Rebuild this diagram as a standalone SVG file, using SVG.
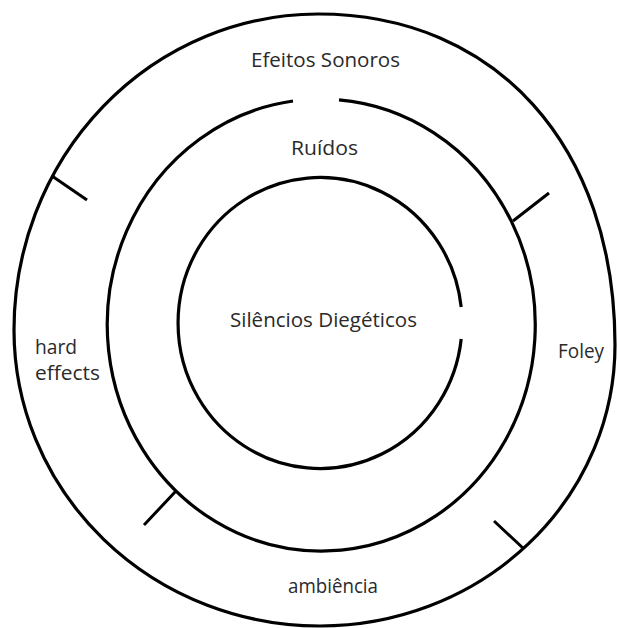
<svg xmlns="http://www.w3.org/2000/svg" width="617" height="628" viewBox="0 0 617 628">
  <style>
    .ring { fill: none; stroke: #000; stroke-width: 3.2; stroke-linecap: butt; }
    .tick { stroke: #000; stroke-width: 3; stroke-linecap: butt; }
    .lbl { font-family: "Open Sans", "Noto Sans", "Liberation Sans", sans-serif; font-size: 20px; fill: #2a2a2a; }
  </style>
  <rect x="0" y="0" width="617" height="628" fill="#fff"/>
  <g id="outer-ring">
    <path class="ring" d="M 14 330 A 304 316 0 0 1 318 14 C 496 14 615 146 615 345 A 295 281 0 0 1 320 626 A 306 296 0 0 1 14 330 Z"/>
    <text class="lbl" x="251" y="67" textLength="149" lengthAdjust="spacingAndGlyphs">Efeitos Sonoros</text>
  </g>
  <g id="middle-ring">
    <path class="ring" d="M 339 99.8 A 214 226 0 1 1 293 101"/>
    <text class="lbl" x="291" y="155" textLength="67" lengthAdjust="spacingAndGlyphs">Ruídos</text>
  </g>
  <g id="inner-ring">
    <path class="ring" d="M 461.2 339 A 142 145.5 0 1 1 461.2 307"/>
    <text class="lbl" x="230" y="327" textLength="187" lengthAdjust="spacingAndGlyphs">Silêncios Diegéticos</text>
  </g>
  <g id="label-hard-effects">
    <text class="lbl" x="35" y="354" textLength="42" lengthAdjust="spacingAndGlyphs">hard</text>
    <text class="lbl" x="35" y="380" textLength="65" lengthAdjust="spacingAndGlyphs">effects</text>
  </g>
  <g id="label-foley">
    <text class="lbl" x="558" y="358" textLength="46" lengthAdjust="spacingAndGlyphs">Foley</text>
  </g>
  <g id="label-ambiencia">
    <text class="lbl" x="288" y="593" textLength="90" lengthAdjust="spacingAndGlyphs">ambiência</text>
  </g>
  <g id="connectors">
    <line class="tick" x1="52" y1="176" x2="87" y2="200"/>
    <line class="tick" x1="513" y1="221" x2="549" y2="193"/>
    <line class="tick" x1="176" y1="491" x2="144" y2="525"/>
    <line class="tick" x1="524" y1="549" x2="494" y2="521"/>
  </g>
</svg>
